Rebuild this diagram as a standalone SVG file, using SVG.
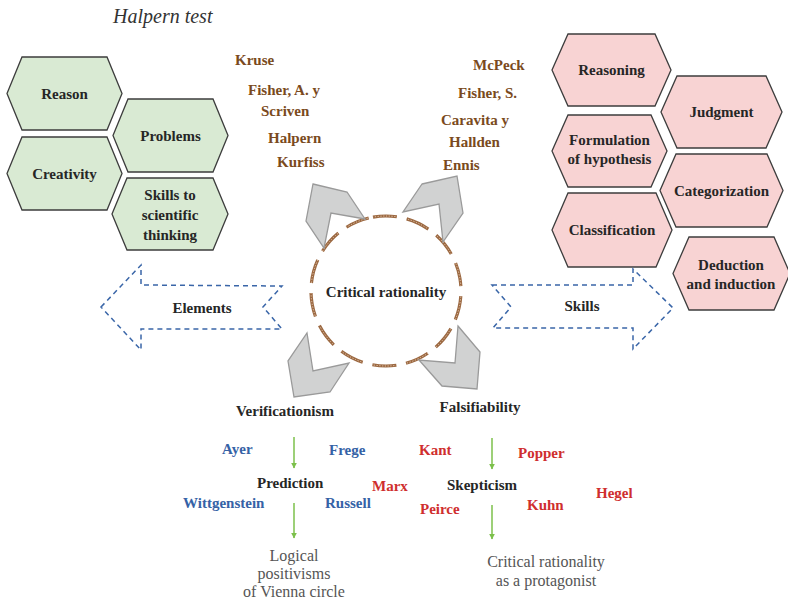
<svg xmlns="http://www.w3.org/2000/svg" width="788" height="602" viewBox="0 0 788 602">
  <style>
    .hexg { fill: #d9ead3; stroke: #3d3d3d; stroke-width: 1.3; }
    .hexp { fill: #f8d3d3; stroke: #3d3d3d; stroke-width: 1.3; }
    .lbl { font-family: "Liberation Serif", "DejaVu Serif", serif; font-weight: bold; font-size: 15px; fill: #262626; }
    .c { text-anchor: middle; }
    .au { font-family: "Liberation Serif", "DejaVu Serif", serif; font-weight: bold; font-size: 15px; fill: #7a4a20; }
    .bl { font-family: "Liberation Serif", "DejaVu Serif", serif; font-weight: bold; font-size: 15px; fill: #3562a6; }
    .rd { font-family: "Liberation Serif", "DejaVu Serif", serif; font-weight: bold; font-size: 15px; fill: #cf2e2e; }
    .gr { font-family: "Liberation Serif", "DejaVu Serif", serif; font-size: 16px; fill: #555555; text-anchor: middle; }
    .chev { fill: #d1d2d2; stroke: #9a9a9a; stroke-width: 1.3; stroke-linejoin: miter; }
    .blk { fill: none; stroke: #3a66a8; stroke-width: 1.5; stroke-dasharray: 5 4; }
    .flow { stroke: #7cc04b; stroke-width: 1.5; fill: none; marker-end: url(#ah); }
  </style>
  <defs>
    <marker id="ah" viewBox="0 0 10 10" refX="9" refY="5" markerWidth="6" markerHeight="6" orient="auto" markerUnits="userSpaceOnUse">
      <path d="M0,0 L10,5 L0,10 z" fill="#7cc04b"/>
    </marker>
    <!-- dashed ring used as a mask for the hatched texture -->
    <mask id="ringMask" maskUnits="userSpaceOnUse" x="300" y="205" width="172" height="172">
      <circle cx="386" cy="291" r="75" fill="none" stroke="#ffffff" stroke-width="3.2" stroke-dasharray="24 10" transform="rotate(-100 386 291)"/>
    </mask>
  </defs>

  <rect width="788" height="602" fill="#ffffff"/>

  <text x="113" y="23" font-family="Liberation Serif, DejaVu Serif, serif" font-style="italic" font-size="20" fill="#333333">Halpern test</text>

  <!-- elements hexagons -->
  <g id="reason"><polygon class="hexg" points="22,57 107,57 122,93.5 107,130 22,130 7,93.5"/><text class="lbl c" x="64.5" y="99">Reason</text></g>
  <g id="problems"><polygon class="hexg" points="128,99 213,99 228,135.5 213,172 128,172 113,135.5"/><text class="lbl c" x="170.5" y="141">Problems</text></g>
  <g id="creativity"><polygon class="hexg" points="22,137 107,137 122,173.5 107,210 22,210 7,173.5"/><text class="lbl c" x="64.5" y="179">Creativity</text></g>
  <g id="skills-scientific"><polygon class="hexg" points="127,178 213,178 228,214 213,250 127,250 112,214"/><text class="lbl c" x="170" y="200">Skills to</text><text class="lbl c" x="170" y="220">scientific</text><text class="lbl c" x="170" y="240">thinking</text></g>

  <!-- skills hexagons -->
  <g id="reasoning"><polygon class="hexp" points="568,34 655,34 671,70 655,106 568,106 552,70"/><text class="lbl c" x="611.5" y="75">Reasoning</text></g>
  <g id="judgment"><polygon class="hexp" points="677,76 766,76 782,112 766,148 677,148 661,112"/><text class="lbl c" x="721.5" y="117">Judgment</text></g>
  <g id="hypothesis"><polygon class="hexp" points="568,115 651,115 667,151 651,187 568,187 552,151"/><text class="lbl c" x="609.5" y="145">Formulation</text><text class="lbl c" x="609.5" y="164">of hypothesis</text></g>
  <g id="categorization"><polygon class="hexp" points="676,154 767,154 783,190.5 767,227 676,227 660,190.5"/><text class="lbl c" x="721.5" y="196">Categorization</text></g>
  <g id="classification"><polygon class="hexp" points="568,193 656,193 672,230 656,267 568,267 552,230"/><text class="lbl c" x="612" y="235">Classification</text></g>
  <g id="deduction"><polygon class="hexp" points="689,237 774,237 790,273.5 774,310 689,310 673,273.5"/><text class="lbl c" x="731" y="270">Deduction</text><text class="lbl c" x="731" y="289">and induction</text></g>

  <!-- authors -->
  <g id="authors-left">
    <text class="au" x="235" y="65">Kruse</text>
    <text class="au" x="248" y="95">Fisher, A. y</text>
    <text class="au" x="261" y="116">Scriven</text>
    <text class="au" x="268" y="143">Halpern</text>
    <text class="au" x="277" y="167">Kurfiss</text>
  </g>
  <g id="authors-right">
    <text class="au" x="473" y="70">McPeck</text>
    <text class="au" x="458" y="98">Fisher, S.</text>
    <text class="au" x="441" y="125">Caravita y</text>
    <text class="au" x="449" y="147">Hallden</text>
    <text class="au" x="443" y="170">Ennis</text>
  </g>

  <!-- central circle: brown dashed ring with a fine light hatching -->
  <g id="critical-rationality">
    <circle cx="386" cy="291" r="75" fill="none" stroke="#9c6942" stroke-width="3.2" stroke-dasharray="24 10" transform="rotate(-100 386 291)"/>
    <circle cx="386" cy="291" r="75" fill="none" stroke="#e6cbb2" stroke-width="1" stroke-dasharray="1.2 1.6" mask="url(#ringMask)"/>
    <text class="lbl c" x="386" y="297">Critical rationality</text>
  </g>

  <!-- block arrows -->
  <g id="elements-arrow">
    <polygon class="blk" points="101,307 141,265 141,285 282,286 263,307 282,329 141,329 141,350"/>
    <text class="lbl c" x="202" y="313">Elements</text>
  </g>
  <g id="skills-arrow">
    <polygon class="blk" points="492,285 633,285 633,269 673,308 633,349 633,328 493,328 511,307"/>
    <text class="lbl c" x="582" y="311">Skills</text>
  </g>

  <!-- bottom nodes -->
  <g id="verificationism"><text class="lbl c" x="285" y="416">Verificationism</text></g>
  <g id="falsifiability"><text class="lbl c" x="480" y="412">Falsifiability</text></g>
  <g id="prediction"><text class="lbl" x="257" y="488">Prediction</text></g>
  <g id="skepticism"><text class="lbl" x="447" y="490">Skepticism</text></g>
  <g id="logical-positivism"><text class="gr" x="294" y="561">Logical</text><text class="gr" x="294" y="579">positivisms</text><text class="gr" x="294" y="597">of Vienna circle</text></g>
  <g id="critical-protagonist"><text class="gr" x="546" y="567">Critical rationality</text><text class="gr" x="546" y="586">as a protagonist</text></g>

  <g id="philosophers">
    <text class="bl" x="222" y="454">Ayer</text>
    <text class="bl" x="329" y="455">Frege</text>
    <text class="bl" x="183" y="508">Wittgenstein</text>
    <text class="bl" x="325" y="508">Russell</text>
    <text class="rd" x="419" y="455">Kant</text>
    <text class="rd" x="518" y="458">Popper</text>
    <text class="rd" x="372" y="491">Marx</text>
    <text class="rd" x="420" y="514">Peirce</text>
    <text class="rd" x="527" y="510">Kuhn</text>
    <text class="rd" x="596" y="498">Hegel</text>
  </g>

  <!-- connectors -->
  <g id="connectors">
    <polygon class="chev" points="313,184 347,192 365,219 331,213 324,248 306,221"/>
    <polygon class="chev" points="422,184 457,176 463,213 443,242 439,204 403,212"/>
    <polygon class="chev" points="307,333 313,371 349,363 330,392 294,397 288,361"/>
    <polygon class="chev" points="458,326 480,352 477,389 442,386 419,360 455,363"/>
    <line class="flow" x1="294" y1="437" x2="294" y2="468"/>
    <line class="flow" x1="294" y1="503" x2="294" y2="538"/>
    <line class="flow" x1="492" y1="438" x2="492" y2="469"/>
    <line class="flow" x1="492" y1="505" x2="492" y2="539"/>
  </g>
</svg>
